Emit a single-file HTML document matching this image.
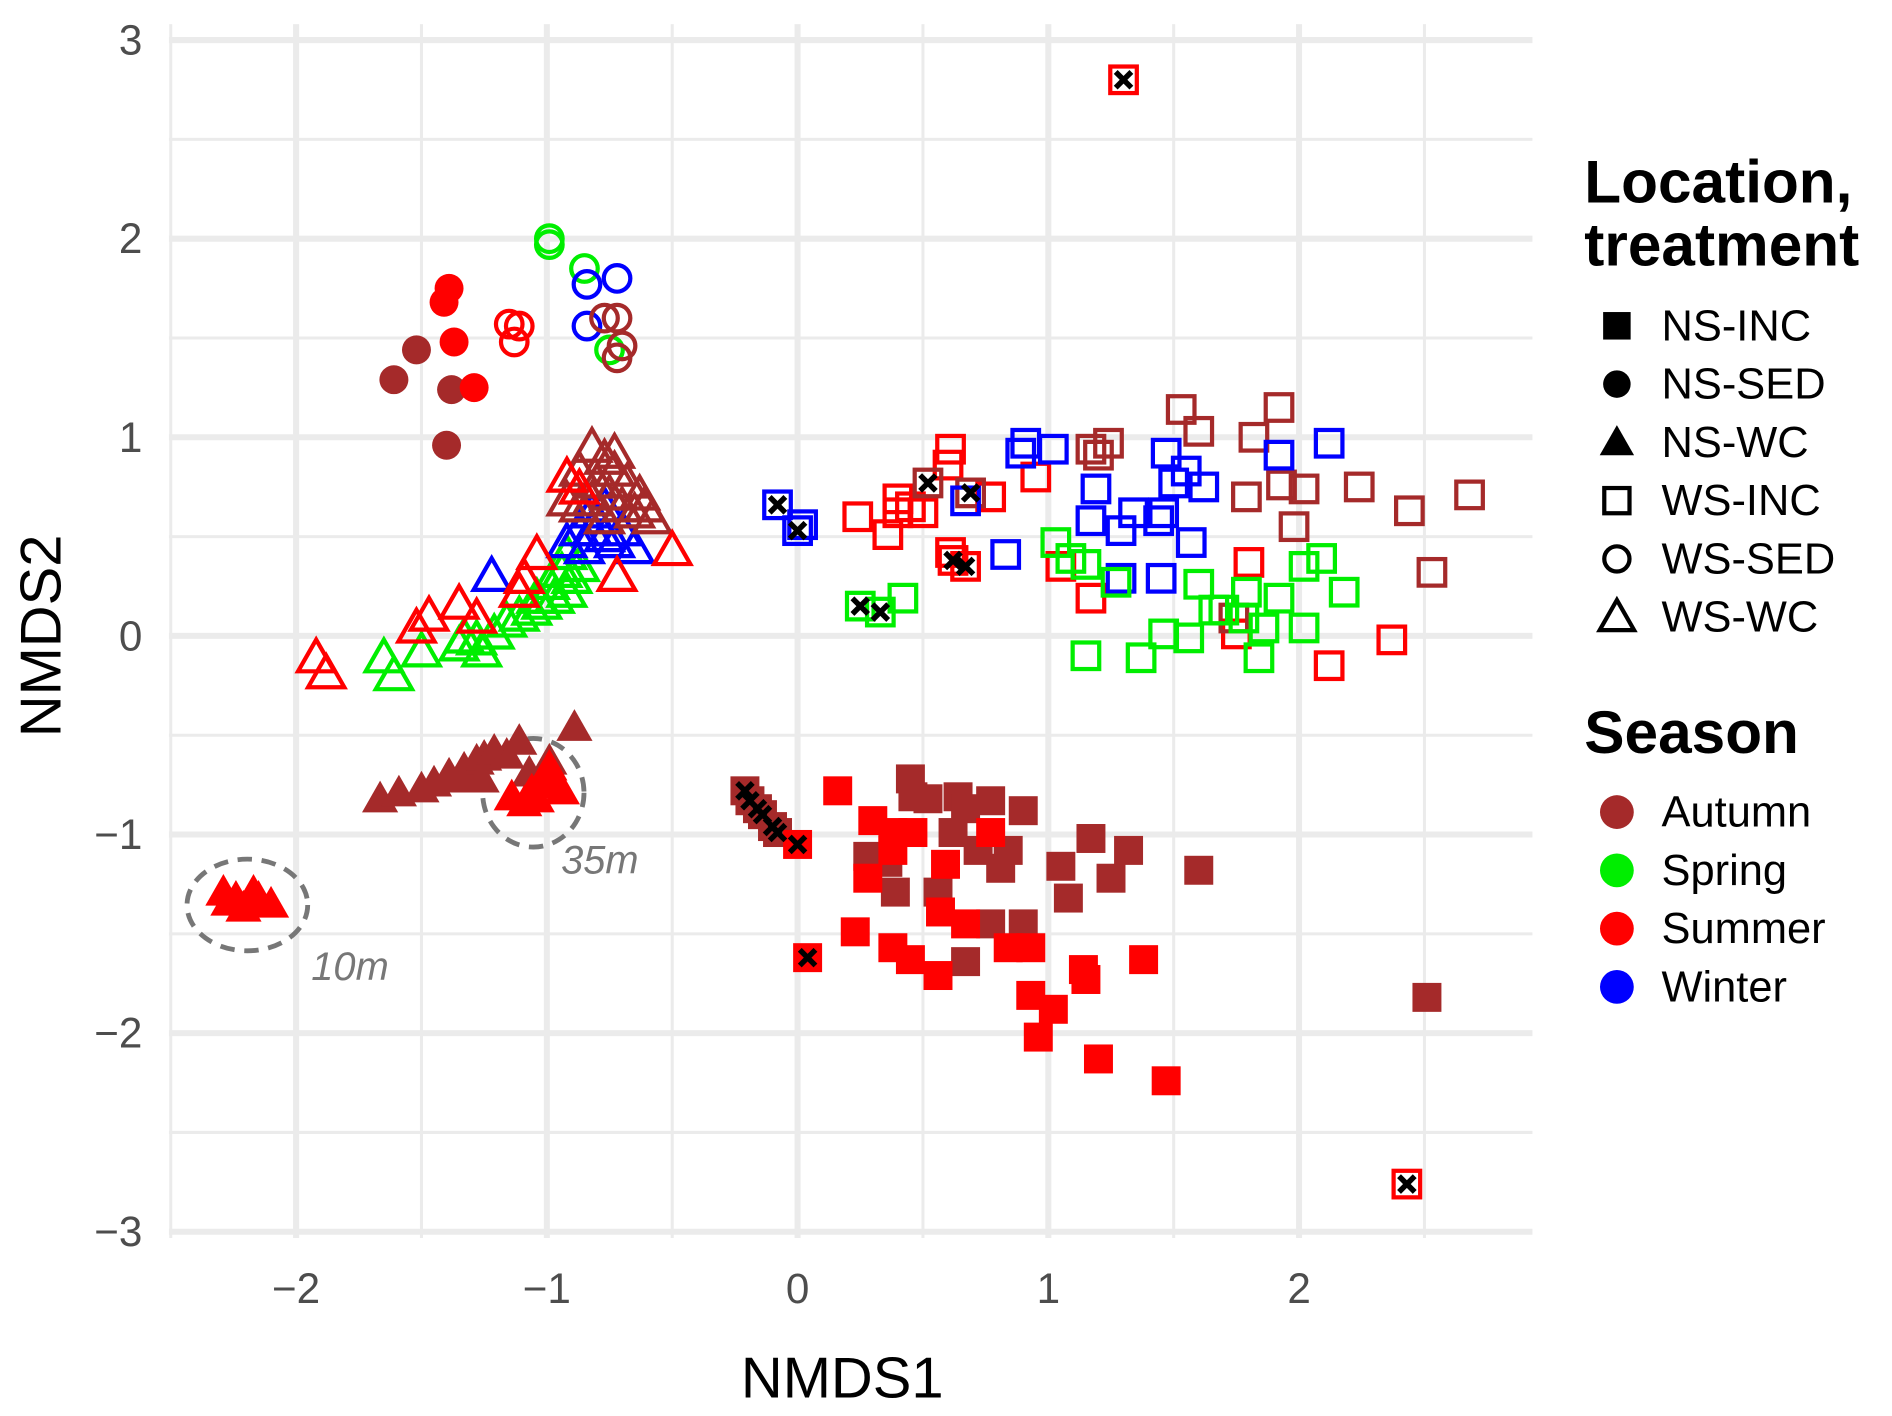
<!DOCTYPE html>
<html><head><meta charset="utf-8"><style>
html,body{margin:0;padding:0;background:#fff}
svg{display:block;font-family:"Liberation Sans",sans-serif}
</style></head><body>
<svg id="chart" width="1892" height="1416" viewBox="0 0 1568 1173.5" xmlns="http://www.w3.org/2000/svg">
<g id="grid"></g>
<g id="ann">
<ellipse cx="205" cy="750" rx="50" ry="38" fill="none" stroke="#777" stroke-width="4" stroke-dasharray="12,8"/>
<ellipse cx="442" cy="657" rx="42" ry="45" fill="none" stroke="#777" stroke-width="4" stroke-dasharray="12,8"/>
<text x="258" y="812" font-size="33" font-style="italic" fill="#777">10m</text>
<text x="465" y="724" font-size="33" font-style="italic" fill="#777">35m</text>
</g>
<g id="pts"></g>
<g id="axes"></g>
<text x="698" y="1158" font-size="48" text-anchor="middle" fill="#000">NMDS1</text>
<text transform="translate(50,527) rotate(-90)" font-size="48" text-anchor="middle" fill="#000">NMDS2</text>
<g id="legend">
<text x="1313" y="168" font-size="50" font-weight="bold">Location,</text>
<text x="1313" y="220" font-size="50" font-weight="bold">treatment</text>
<text x="1313" y="624" font-size="50" font-weight="bold">Season</text>
</g>
</svg>
<script>
const xTicks=[-2,-1,0,1,2];
const yTicks=[-3,-2,-1,0,1,2,3];
const xTickLabels=["\u22122","\u22121","0","1","2"];
const yTickLabels=["\u22123","\u22122","\u22121","0","1","2","3"];
const seasons=["Autumn","Spring","Summer","Winter"];
const seasonColors=["#a52a2a","#00ee00","#ff0000","#0000ff"];
const treatments=["NS-INC","NS-SED","NS-WC","WS-INC","WS-SED","WS-WC"];

const nsSedAutumnX=[-1.61,-1.52,-1.38,-1.40];
const nsSedAutumnY=[1.29,1.44,1.24,0.96];
const nsSedSummerX=[-1.39,-1.41,-1.37,-1.29];
const nsSedSummerY=[1.75,1.68,1.48,1.25];
const wsSedSummerX=[-1.15,-1.11,-1.13];
const wsSedSummerY=[1.57,1.56,1.48];
const wsSedSpringX=[-0.99,-0.99,-0.85,-0.75];
const wsSedSpringY=[2.00,1.97,1.85,1.44];
const wsSedWinterX=[-0.84,-0.72,-0.84];
const wsSedWinterY=[1.77,1.80,1.56];
const wsSedAutumnX=[-0.77,-0.72,-0.70,-0.72];
const wsSedAutumnY=[1.60,1.60,1.46,1.40];

const nsWcAutumnX=[-1.665,-1.59,-1.50,-1.45,-1.39,-1.33,-1.28,-1.25,-1.21,-1.16,-1.11,-1.07,-0.99,-0.89,-1.26,-1.35];
const nsWcAutumnY=[-0.82,-0.79,-0.77,-0.74,-0.70,-0.67,-0.63,-0.61,-0.58,-0.60,-0.53,-0.69,-0.63,-0.46,-0.72,-0.72];
const nsWcSummerX=[-2.29,-2.24,-2.19,-2.15,-2.10,-2.21,-2.17,-2.27,-1.14,-1.06,-1.02,-0.97,-0.99,-1.09,-0.94,-1.04];
const nsWcSummerY=[-1.29,-1.32,-1.34,-1.32,-1.35,-1.37,-1.29,-1.34,-0.81,-0.78,-0.75,-0.72,-0.66,-0.84,-0.78,-0.82];

const wsWcSpringX=[-1.65,-1.61,-1.50,-1.35,-1.28,-1.21,-1.16,-1.11,-1.06,-1.02,-0.97,-0.92,-0.90,-0.87,-0.92,-0.94,-0.99,-1.04,-1.26,-1.33];
const wsWcSpringY=[-0.11,-0.20,-0.08,-0.05,-0.02,0.01,0.07,0.10,0.13,0.16,0.19,0.22,0.29,0.35,0.41,0.32,0.26,0.19,-0.08,-0.01];
const wsWcWinterX=[-1.22,-0.92,-0.87,-0.82,-0.77,-0.73,-0.65,-0.82,-0.77,-0.85,-0.70];
const wsWcWinterY=[0.30,0.47,0.53,0.53,0.50,0.47,0.44,0.62,0.65,0.44,0.53];
const wsWcAutumnX=[-0.82,-0.77,-0.73,-0.68,-0.63,-0.87,-0.80,-0.75,-0.70,-0.65,-0.82,-0.87,-0.77,-0.61,-0.58,-0.92,-0.73];
const wsWcAutumnY=[0.95,0.89,0.83,0.77,0.71,0.83,0.77,0.71,0.65,0.62,0.68,0.65,0.59,0.65,0.59,0.68,0.92];
const wsWcSummerX=[-1.92,-1.88,-1.52,-1.47,-1.35,-1.28,-1.11,-1.09,-1.04,-0.92,-0.72,-0.50,-0.87];
const wsWcSummerY=[-0.11,-0.19,0.04,0.10,0.16,0.09,0.22,0.29,0.41,0.80,0.30,0.43,0.74];

const nsIncAutumnX=[-0.21,-0.19,-0.16,-0.14,-0.10,-0.08,0.45,0.46,0.52,0.64,0.67,0.77,0.90,0.28,0.36,0.39,0.56,0.72,0.84,1.05,1.08,1.17,1.25,1.32,1.60,0.77,0.90,0.67,2.51,0.62,0.81];
const nsIncAutumnY=[-0.78,-0.83,-0.87,-0.90,-0.96,-0.99,-0.72,-0.81,-0.82,-0.81,-0.87,-0.83,-0.88,-1.11,-1.14,-1.29,-1.29,-1.08,-1.08,-1.16,-1.32,-1.02,-1.22,-1.08,-1.18,-1.45,-1.45,-1.64,-1.82,-0.99,-1.17];
const nsIncSummerX=[0.00,0.04,0.16,0.30,0.38,0.46,0.38,0.28,0.59,0.77,0.57,0.38,0.45,0.56,0.23,0.67,0.84,0.93,0.93,1.02,0.96,1.14,1.15,1.38,1.20,1.47];
const nsIncSummerY=[-1.05,-1.62,-0.78,-0.93,-0.99,-0.99,-1.08,-1.22,-1.15,-0.99,-1.39,-1.57,-1.63,-1.71,-1.49,-1.45,-1.57,-1.57,-1.81,-1.88,-2.02,-1.68,-1.73,-1.63,-2.13,-2.24];

const wsIncSummerX=[1.30,2.43,0.24,0.36,0.40,0.45,0.50,0.61,0.60,0.77,0.95,1.05,1.17,1.80,1.75,2.12,2.37,0.40,0.62,0.67,0.61];
const wsIncSummerY=[2.80,-2.76,0.60,0.51,0.69,0.65,0.62,0.94,0.86,0.70,0.80,0.35,0.19,0.37,0.01,-0.15,-0.02,0.62,0.38,0.35,0.42];
const wsIncAutumnX=[0.52,0.69,1.17,1.24,1.53,1.60,1.82,1.92,1.79,1.93,2.02,1.98,2.24,2.44,2.68,2.53,1.74,1.20];
const wsIncAutumnY=[0.77,0.72,0.94,0.97,1.14,1.03,1.00,1.15,0.70,0.76,0.74,0.55,0.75,0.63,0.71,0.32,0.09,0.91];
const wsIncWinterX=[-0.08,0.00,0.02,0.67,0.89,0.91,1.02,0.83,1.19,1.17,1.29,1.34,1.44,1.47,1.50,1.55,1.57,1.62,1.45,1.29,1.92,2.12,1.46];
const wsIncWinterY=[0.66,0.53,0.56,0.68,0.92,0.97,0.94,0.41,0.74,0.58,0.53,0.62,0.58,0.92,0.77,0.83,0.47,0.75,0.29,0.29,0.91,0.97,0.62];
const wsIncSpringX=[0.25,0.33,0.42,1.03,1.09,1.15,1.27,1.15,1.37,1.46,1.56,1.60,1.66,1.79,1.86,1.84,1.92,2.02,2.09,2.18,2.02,1.70,1.78];
const wsIncSpringY=[0.15,0.12,0.19,0.47,0.39,0.36,0.27,-0.10,-0.11,0.01,-0.01,0.26,0.13,0.22,0.04,-0.11,0.19,0.35,0.39,0.22,0.04,0.13,0.09];

const markedX=[-0.21,-0.19,-0.16,-0.14,-0.10,-0.08,0.00,0.04,1.30,2.43,0.62,0.67,0.52,0.69,-0.08,0.00,0.25,0.33];
const markedY=[-0.78,-0.83,-0.87,-0.90,-0.96,-0.99,-1.05,-1.62,2.80,-2.76,0.38,0.35,0.77,0.72,0.66,0.53,0.15,0.12];

const groups=[
 ["NS-SED",0,nsSedAutumnX,nsSedAutumnY],["NS-SED",2,nsSedSummerX,nsSedSummerY],
 ["WS-SED",2,wsSedSummerX,wsSedSummerY],["WS-SED",1,wsSedSpringX,wsSedSpringY],["WS-SED",3,wsSedWinterX,wsSedWinterY],["WS-SED",0,wsSedAutumnX,wsSedAutumnY],
 ["NS-WC",0,nsWcAutumnX,nsWcAutumnY],["NS-WC",2,nsWcSummerX,nsWcSummerY],
 ["WS-WC",1,wsWcSpringX,wsWcSpringY],["WS-WC",3,wsWcWinterX,wsWcWinterY],["WS-WC",0,wsWcAutumnX,wsWcAutumnY],["WS-WC",2,wsWcSummerX,wsWcSummerY],
 ["NS-INC",0,nsIncAutumnX,nsIncAutumnY],["NS-INC",2,nsIncSummerX,nsIncSummerY],
 ["WS-INC",2,wsIncSummerX,wsIncSummerY],["WS-INC",0,wsIncAutumnX,wsIncAutumnY],["WS-INC",3,wsIncWinterX,wsIncWinterY],["WS-INC",1,wsIncSpringX,wsIncSpringY]
];

const NS="http://www.w3.org/2000/svg";
const xs=v=>661+207.8*v;
const ys=v=>527-164.6*v;
const L=140,R=1270,T=20,B=1026;
function mk(tag,attrs,parent){const e=document.createElementNS(NS,tag);for(const k in attrs)e.setAttribute(k,attrs[k]);parent.appendChild(e);return e;}
const grid=document.getElementById('grid');
for(let v=-2.5;v<=2.6;v+=1){const ln=mk('line',{x1:xs(v),x2:xs(v),y1:T,y2:B,stroke:'#ebebeb','stroke-width':2.5},grid);

}
for(let v=-2.5;v<=2.6;v+=1){const ln=mk('line',{x1:L,x2:R,y1:ys(v),y2:ys(v),stroke:'#ebebeb','stroke-width':2.5},grid);

}
xTicks.forEach((v,i)=>{const ln=mk('line',{x1:xs(v),x2:xs(v),y1:T,y2:B,stroke:'#ebebeb','stroke-width':5},grid);


const t=mk('text',{x:xs(v),y:1080,'font-size':35,'text-anchor':'middle',fill:'#4d4d4d'},grid);t.textContent=xTickLabels[i];

});
yTicks.forEach((v,i)=>{const ln=mk('line',{x1:L,x2:R,y1:ys(v),y2:ys(v),stroke:'#ebebeb','stroke-width':5},grid);


const t=mk('text',{x:118,y:ys(v)+12,'font-size':35,'text-anchor':'end',fill:'#4d4d4d'},grid);t.textContent=yTickLabels[i];

});

function shape(tr,color,cx,cy,parent,s){
 s=s||1;const filled=tr.startsWith('NS');const sw=3.5;
 const fill=filled?color:'none';const kind=tr.split('-')[1];let e;
 if(kind==='INC'){const h=filled?12*s:11*s;e=mk('rect',{x:cx-h,y:cy-h,width:2*h,height:2*h,fill:fill,stroke:filled?'none':color,'stroke-width':sw},parent);}
 else if(kind==='SED'){e=mk('circle',{cx:cx,cy:cy,r:filled?12*s:11*s,fill:fill,stroke:filled?'none':color,'stroke-width':sw},parent);}
 else{const a=15*s;e=mk('polygon',{points:`${cx},${cy-a} ${cx-a},${cy+a*0.75} ${cx+a},${cy+a*0.75}`,fill:fill,stroke:filled?'none':color,'stroke-width':sw,'stroke-linejoin':'miter'},parent);}
 return e;}
const pts=document.getElementById('pts');
groups.forEach(g=>{const [tr,si,X,Y]=g;X.forEach((xv,i)=>{const e=shape(tr,seasonColors[si],xs(xv),ys(Y[i]),pts);

});});
markedX.forEach((xv,i)=>{const cx=xs(xv),cy=ys(markedY[i]),d=6.5;
const p=mk('path',{d:`M${cx-d},${cy-d}L${cx+d},${cy+d}M${cx-d},${cy+d}L${cx+d},${cy-d}`,stroke:'#000','stroke-width':4.5},pts);

});

const leg=document.getElementById('legend');
treatments.forEach((tr,i)=>{const y=270+i*48.3;const e=shape(tr,'#000',1340,y,leg,0.95);


const t=mk('text',{x:1377,y:y+12,'font-size':36,fill:'#000'},leg);t.textContent=tr;

});
seasons.forEach((s,i)=>{const y=673+i*48.3;const c=mk('circle',{cx:1340,cy:y,r:14,fill:seasonColors[i]},leg);


const t=mk('text',{x:1377,y:y+12,'font-size':36,fill:'#000'},leg);t.textContent=s;

});
</script>
</body></html>
